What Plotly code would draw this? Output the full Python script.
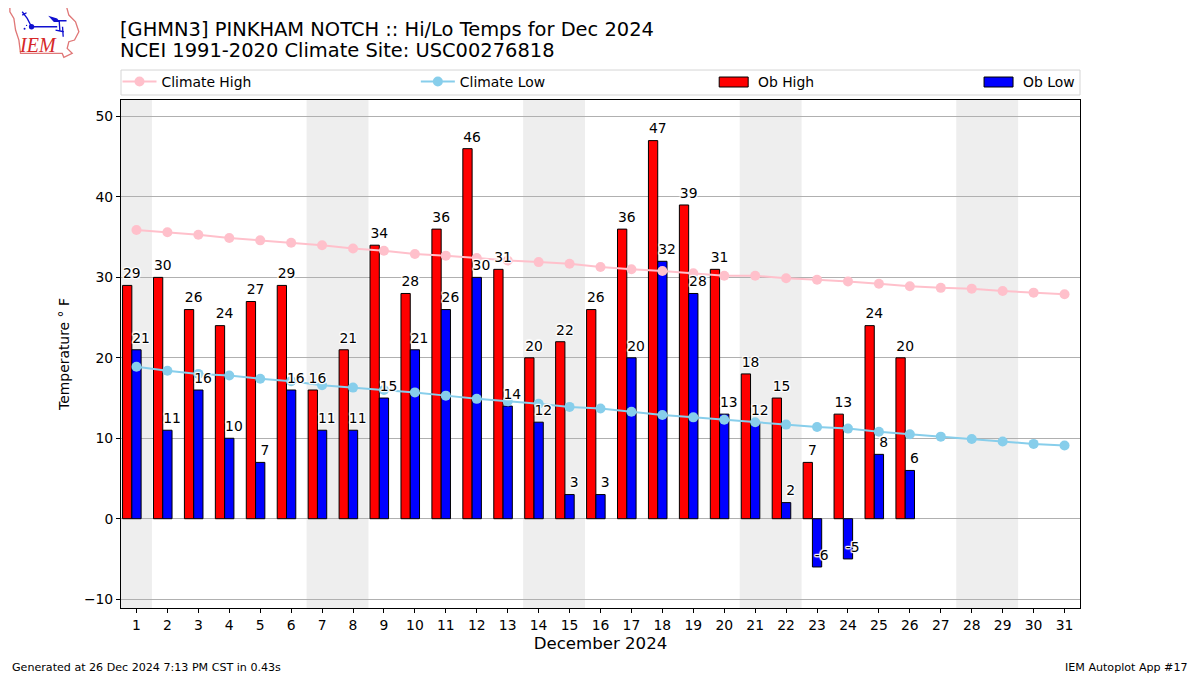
import base64
import plotly.graph_objects as go

days = list(range(1, 32))
ob_high = [29, 30, 26, 24, 27, 29, 16, 21, 34, 28, 36, 46, 31, 20, 22, 26, 36, 47, 39, 31, 18, 15, 7, 13, 24, 20,
           None, None, None, None, None]
ob_low = [21, 11, 16, 10, 7, 16, 11, 11, 15, 21, 26, 30, 14, 12, 3, 3, 20, 32, 28, 13, 12, 2, -6, -5, 8, 6,
          None, None, None, None, None]
climate_high = [35.9, 35.6, 35.3, 34.9, 34.6, 34.3, 34.0, 33.6, 33.3, 32.9, 32.7, 32.4, 32.1, 31.9, 31.7, 31.3,
                31.0, 30.8, 30.5, 30.2, 30.2, 29.9, 29.7, 29.5, 29.2, 28.9, 28.7, 28.6, 28.3, 28.1, 27.9]
climate_low = [18.9, 18.4, 18.0, 17.8, 17.4, 17.1, 16.6, 16.3, 16.0, 15.7, 15.3, 14.9, 14.6, 14.3, 13.9, 13.7,
               13.3, 12.9, 12.6, 12.3, 12.0, 11.7, 11.4, 11.2, 10.8, 10.5, 10.2, 9.9, 9.6, 9.3, 9.1]
weekend_spans = [(0.5, 1.5), (6.5, 8.5), (13.5, 15.5), (20.5, 22.5), (27.5, 29.5)]
y_ticks = [-10, 0, 10, 20, 30, 40, 50]

FONT = "DejaVu Sans"
PAGE_MARGIN = 8  # the browser page's default body margin
W, H = 1200 - PAGE_MARGIN, 675 - PAGE_MARGIN
L, R, T, B = 120.5, 1080, 100, 608.5  # plot frame in page pixels


def px(x):
    return (x - L) / (R - L)


def py(y):
    return (B - y) / (B - T)


HALO = ("1.2px 0 1px white, -1.2px 0 1px white, 0 1.2px 1px white, 0 -1.2px 1px white, "
        "1px 1px 1px white, -1px -1px 1px white, 1px -1px 1px white, -1px 1px 1px white")

fig = go.Figure()
fig.add_bar(x=days, y=ob_high, width=0.3, offset=-0.45, name="Ob High", showlegend=False,
            marker=dict(color="red", line=dict(color="black", width=1)))
fig.add_bar(x=days, y=ob_low, width=0.3, offset=-0.15, name="Ob Low", showlegend=False,
            marker=dict(color="blue", line=dict(color="black", width=1)))
fig.add_scatter(x=days, y=climate_high, mode="lines+markers", name="Climate High", legend="legend",
                line=dict(color="pink", width=2), marker=dict(color="pink", size=10))
fig.add_scatter(x=days, y=climate_low, mode="lines+markers", name="Climate Low", legend="legend2",
                line=dict(color="skyblue", width=2), marker=dict(color="skyblue", size=10))

for vals, dx in ((ob_high, -0.15), (ob_low, 0.15)):
    xs = [d + dx for d, v in zip(days, vals) if v is not None]
    ys = [v + 1.32 for v in vals if v is not None]
    tx = [str(v) for v in vals if v is not None]
    fig.add_scatter(x=xs, y=ys, text=tx, mode="text", textposition="middle center", showlegend=False,
                    hoverinfo="skip", cliponaxis=False,
                    textfont=dict(family=FONT, size=13.9, color="black", shadow=HALO))

shapes = [dict(type="rect", xref="x", yref="paper", x0=a, x1=b, y0=0, y1=1, fillcolor="#eeeeee",
               line_width=0, layer="below") for a, b in weekend_spans]
shapes.append(dict(type="rect", xref="paper", yref="paper", x0=px(120.5), x1=px(1080), y0=py(95), y1=py(70),
                   line=dict(color="#d5d5d5", width=1), fillcolor="white", layer="below"))
# Legend patches for the bar series
for x0, color in ((719, "red"), (984, "blue")):
    shapes.append(dict(type="rect", xref="paper", yref="paper", x0=px(x0), x1=px(x0 + 29), y0=py(87), y1=py(77),
                       line=dict(color="black", width=1), fillcolor=color, layer="below"))

# Logo artwork (IEM text stays a real annotation)
logo_svg = """<svg xmlns="http://www.w3.org/2000/svg" width="84" height="60" viewBox="0 0 252 180">
<polygon points="28,22 198,20 205,45 225,65 235,95 222,120 205,125 200,145 215,160 190,172 185,160 60,160 55,120 45,90 40,55 28,35"
 fill="white" stroke="#e07878" stroke-width="4"/>
<g stroke="#1010d0" fill="none" stroke-width="4">
<path d="M92,80 H170 M172,62 H198 M176,62 L178,92 M165,90 L190,95 M186,80 L188,110 M65,35 L80,55 L92,78 M65,45 L78,38" />
</g>
<path d="M143,47 L170,55 L178,66 L160,66 Z" fill="#1010d0"/>
<circle cx="93" cy="80" r="8" fill="#1010d0"/>
<circle cx="72" cy="86" r="3" fill="#1010d0"/><circle cx="78" cy="76" r="2" fill="#1010d0"/>
</svg>"""
logo_uri = "data:image/svg+xml;base64," + base64.b64encode(logo_svg.encode()).decode()

annotations = [
    dict(text="NCEI 1991-2020 Climate Site: USC00276818", xref="paper", yref="paper", x=px(117), y=py(50.5),
         xanchor="left", yanchor="middle", showarrow=False, font=dict(family=FONT, size=19.45, color="black")),
    dict(text="Generated at 26 Dec 2024 7:13 PM CST in 0.43s", xref="paper", yref="paper", x=px(9), y=py(668),
         xanchor="left", yanchor="middle", showarrow=False, font=dict(family=FONT, size=11.1, color="black")),
    dict(text="IEM Autoplot App #17", xref="paper", yref="paper", x=px(1190), y=py(668),
         xanchor="right", yanchor="middle", showarrow=False, font=dict(family=FONT, size=11.1, color="black")),
    dict(text="<i>IEM</i>", xref="paper", yref="paper", x=px(37.5), y=py(45), xanchor="center", yanchor="middle",
         showarrow=False, font=dict(family="Liberation Serif", size=20, color="#d62728")),
    dict(text="Ob High", xref="paper", yref="paper", x=px(756), y=py(82), xanchor="left", yanchor="middle",
         showarrow=False, font=dict(family=FONT, size=13.9, color="black")),
    dict(text="Ob Low", xref="paper", yref="paper", x=px(1021), y=py(82), xanchor="left", yanchor="middle",
         showarrow=False, font=dict(family=FONT, size=13.9, color="black")),
]


def legend_at(x):
    return dict(x=px(x), y=py(82), xanchor="left", yanchor="middle", bgcolor="rgba(0,0,0,0)", borderwidth=0,
                font=dict(family=FONT, size=13.9, color="black"), itemwidth=34)


fig.update_layout(
    width=W, height=H, autosize=False,
    margin=dict(l=L - PAGE_MARGIN, r=W - (R - PAGE_MARGIN), t=T - PAGE_MARGIN, b=H - (B - PAGE_MARGIN), pad=0),
    paper_bgcolor="white", plot_bgcolor="rgba(0,0,0,0)",
    font=dict(family=FONT, size=13.9, color="black"),
    barmode="overlay",
    title=dict(text="[GHMN3] PINKHAM NOTCH :: Hi/Lo Temps for Dec 2024", xref="container", yref="container",
               x=(120 - PAGE_MARGIN) / W, xanchor="left", y=1 - (29 - PAGE_MARGIN) / H, yanchor="middle",
               font=dict(family=FONT, size=19.45, color="black")),
    xaxis=dict(range=[0.5, 31.5], tickmode="array", tickvals=days, ticktext=[str(d) for d in days],
               showgrid=False, zeroline=False, showline=True, linecolor="black", linewidth=1, mirror=True,
               ticks="outside", ticklen=4, tickcolor="black", tickfont=dict(size=13.9),
               title=dict(text="December 2024", font=dict(size=16.6), standoff=5)),
    yaxis=dict(range=[-11.1, 52.05], tickmode="array", tickvals=y_ticks,
               ticktext=[str(v).replace("-", "\u2212") for v in y_ticks],
               showgrid=True, gridcolor="#b0b0b0", gridwidth=1, zeroline=False,
               showline=True, linecolor="black", linewidth=1, mirror=True,
               ticks="outside", ticklen=4, tickcolor="black", tickfont=dict(size=13.9),
               title=dict(text="Temperature ° F", font=dict(size=13.9), standoff=11)),
    shapes=shapes,
    annotations=annotations,
    images=[dict(source=logo_uri, xref="paper", yref="paper", x=px(0), y=py(0), sizex=84 / (R - L), sizey=60 / (B - T),
                 xanchor="left", yanchor="top", sizing="stretch", layer="above")],
    legend=legend_at(117),
    legend2=legend_at(415.5),
)

fig.write_html("out.html")
